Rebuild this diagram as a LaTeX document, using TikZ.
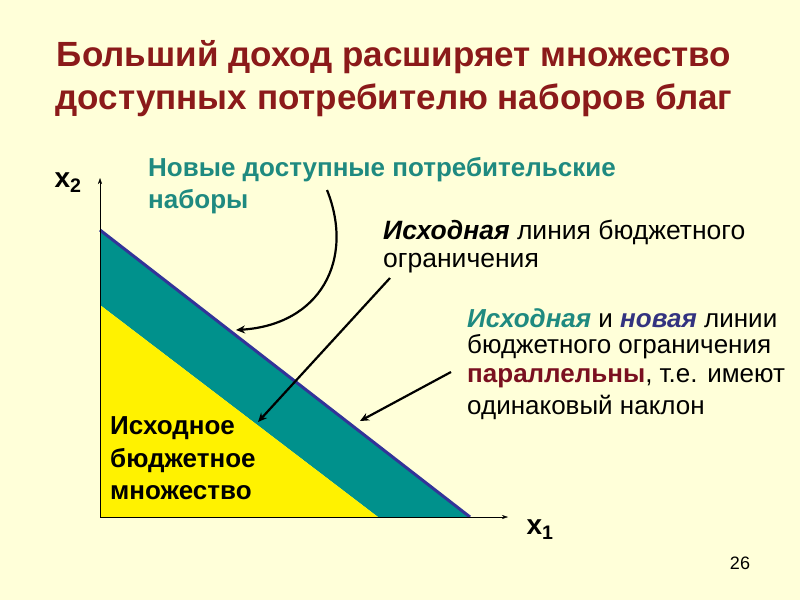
\documentclass[tikz,border=0pt]{standalone}
\usepackage{fontspec}
\setmainfont{Liberation Sans}
\usetikzlibrary{arrows.meta}
\definecolor{bg}{HTML}{FFFFD9}
\definecolor{ttl}{HTML}{8B1A1A}
\definecolor{tealb}{HTML}{00918C}
\definecolor{tealt}{HTML}{1F8A80}
\definecolor{bline}{HTML}{333399}
\definecolor{navy}{HTML}{333380}
\definecolor{dred}{HTML}{7A1020}
\begin{document}
\begin{tikzpicture}[x=1pt,y=-1pt,
  txt/.style={anchor=west,inner sep=0pt,font=\fontsize{26}{26}\selectfont},
  arr/.style={line width=2.2pt,-{Stealth[length=9pt,width=8pt]}}]
\fill[bg] (0,0) rectangle (800,600);
\useasboundingbox (0,0) rectangle (800,600);
\node[inner sep=0pt,text=ttl,font=\fontsize{35}{35}\selectfont\bfseries] (t1) at (394,57) {Больший доход расширяет множество};
\node[inner sep=0pt,text=ttl,font=\fontsize{35}{35}\selectfont\bfseries] (t2) at (394,100) {доступных потребителю наборов благ};
% regions
\fill[tealb] (100,230) -- (470,517) -- (378,517) -- (100,305) -- cycle;
\fill[yellow] (100,305) -- (378,517) -- (100,517) -- cycle;
\coordinate (A) at (100,230); \coordinate (B) at (470,517);
\draw[bline,line width=3pt] (A) -- (B);
% axes
\coordinate (O) at (100,517);
\coordinate (Y) at (100,178); \coordinate (X) at (508,517);
\draw[-{Stealth[length=6pt,width=4pt]},thin] (O) -- (Y);
\draw[-{Stealth[length=6pt,width=4pt]},thin] (O) -- (X);
\node[font=\fontsize{28}{28}\selectfont\bfseries] (x2) at (68,183) {x\textsubscript{2}};
\node[font=\fontsize{28}{28}\selectfont\bfseries] (x1) at (540,530) {x\textsubscript{1}};
% texts
\node[txt,text=tealt,font=\fontsize{26}{26}\selectfont\bfseries] (n1) at (148,170) {Новые доступные потребительские};
\node[txt,text=tealt,font=\fontsize{26}{26}\selectfont\bfseries] (n2) at (148,202) {наборы};
\node[txt,font=\fontsize{26.5}{26}\selectfont] (o1) at (383,232) {\textbf{\textit{Исходная}} линия бюджетного};
\node[txt,font=\fontsize{26.5}{26}\selectfont] (o2) at (383,263) {ограничения};
\node[txt] (p1) at (467,318) {\textcolor{tealt}{\textbf{\textit{Исходная}}} и \textcolor{navy}{\textbf{\textit{новая}}} линии};
\node[txt] (p2) at (467,347) {бюджетного ограничения};
\node[txt] (p3) at (467,378) {\textcolor{dred}{\textbf{параллельны}}, т.е. имеют};
\node[txt] (p4) at (467,407) {одинаковый наклон};
\node[txt,font=\fontsize{26}{26}\selectfont\bfseries] (s1) at (110,428) {Исходное};
\node[txt,font=\fontsize{26}{26}\selectfont\bfseries] (s2) at (110,461) {бюджетное};
\node[txt,font=\fontsize{26}{26}\selectfont\bfseries] (s3) at (110,493) {множество};
\node[font=\fontsize{18}{18}\selectfont] (pg) at (740,563) {26};
% arrows
\coordinate (c1) at (327,190); \coordinate (c1e) at (236,330);
\draw[arr] (c1) .. controls (355,260) and (320,325) .. (c1e);
\coordinate (c2) at (390,278); \coordinate (c2e) at (258,422);
\draw[arr] (c2) -- (c2e);
\coordinate (c3) at (451,372); \coordinate (c3e) at (360,421);
\draw[arr] (c3) -- (c3e);
\end{tikzpicture}
\end{document}
